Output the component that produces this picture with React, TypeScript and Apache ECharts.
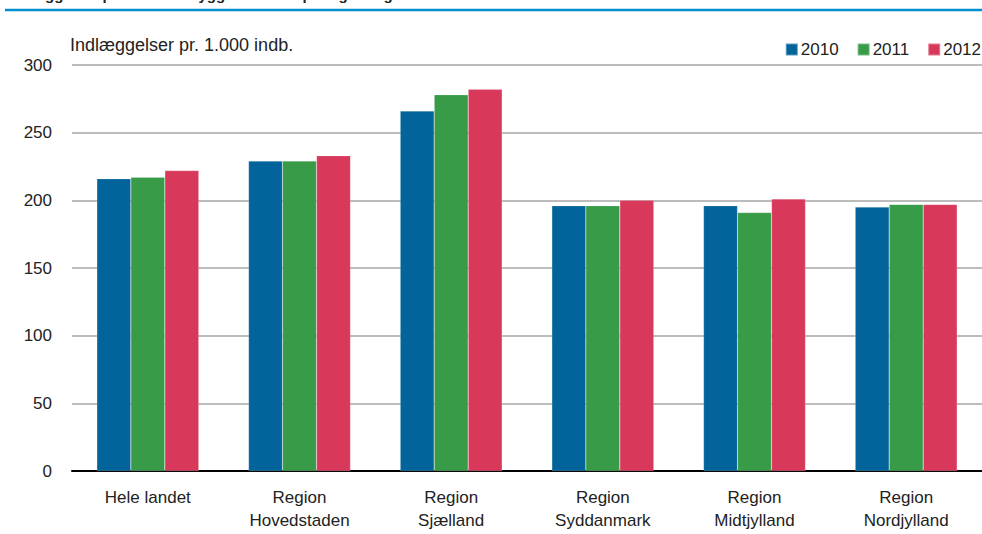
import React, { useEffect, useRef } from "react";
import * as echarts from "echarts";

const categories = [
  "Hele landet",
  "Region\nHovedstaden",
  "Region\nSjælland",
  "Region\nSyddanmark",
  "Region\nMidtjylland",
  "Region\nNordjylland",
];
const seriesNames = ["2010", "2011", "2012"];
const values2010 = [216, 229, 266, 196, 196, 195];
const values2011 = [217, 229, 278, 196, 191, 197];
const values2012 = [222, 233, 282, 200, 201, 197];
const colors = ["#02649a", "#379b48", "#d8395a"];
const yTicks = { min: 0, max: 300, interval: 50 };
const unitLabel = "Indlæggelser pr. 1.000 indb.";
const titleText = "Indlæggelser pr. 1.000 indbyggere fordelt på region og år";

const FONT = "'Liberation Sans Narrow', 'Liberation Sans', Arial, sans-serif";

export default function App() {
  const ref = useRef<HTMLDivElement>(null);
  useEffect(() => {
    if (!ref.current) return;
    const chart = echarts.init(ref.current, undefined, { renderer: "svg" });
    const data = [values2010, values2011, values2012];
    chart.setOption({
      animation: false,
      textStyle: { fontFamily: FONT },
      grid: { left: 72, top: 65, width: 918, bottom: 63, containLabel: false },
      legend: {
        right: -4,
        top: 36,
        itemWidth: 12,
        itemHeight: 12,
        itemGap: 18,
        icon: "rect",
        textStyle: { fontFamily: FONT, fontSize: 17, color: "#222", padding: [0, 0, 0, -2] },
        data: seriesNames,
      },
      xAxis: {
        type: "category",
        data: categories,
        axisLine: { show: true, lineStyle: { color: "#000", width: 2 } },
        axisTick: { show: false },
        axisLabel: {
          fontFamily: FONT,
          fontSize: 17,
          color: "#222",
          margin: 15,
          lineHeight: 23,
          interval: 0,
        },
      },
      yAxis: {
        type: "value",
        min: yTicks.min,
        max: yTicks.max,
        interval: yTicks.interval,
        axisLine: { show: false },
        axisTick: { show: false },
        splitLine: { lineStyle: { color: "#a6a6a6", width: 1.5 } },
        axisLabel: { fontFamily: FONT, fontSize: 17, color: "#222", margin: 20 },
      },
      series: seriesNames.map((name, i) => ({
        name,
        type: "bar",
        data: data[i],
        barWidth: 34,
        barGap: "0%",
        itemStyle: { color: colors[i], borderColor: "rgba(255,255,255,0.35)", borderWidth: 0.5 },
      })),
      graphic: [
        {
          type: "text",
          left: 5,
          top: -13,
          style: {
            text: titleText,
            fontFamily: FONT,
            fontWeight: "bold",
            fontSize: 15,
            fill: "#222",
          },
        },
        {
          type: "line",
          shape: { x1: 5, y1: 10, x2: 982, y2: 10 },
          style: { stroke: "#0090d0", lineWidth: 2.5 },
        },
        {
          type: "text",
          left: 70,
          top: 36,
          style: { text: unitLabel, fontFamily: FONT, fontSize: 18, fill: "#222" },
        },
      ],
    });
    return () => chart.dispose();
  }, []);
  return (
    <div
      ref={ref}
      style={{ position: "fixed", left: 0, top: 0, width: 982, height: 534, background: "#fff" }}
    />
  );
}
